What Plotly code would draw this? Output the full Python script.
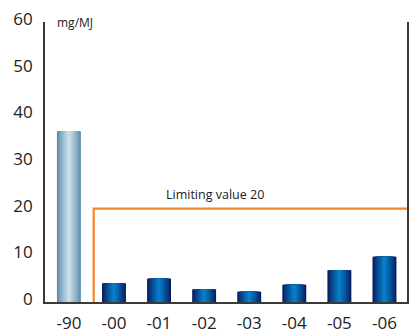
import plotly.graph_objects as go

# Emission values per year, mg/MJ
years = ["-90", "-00", "-01", "-02", "-03", "-04", "-05", "-06"]
values = [36.6, 4.0, 5.0, 2.7, 2.2, 3.7, 6.8, 9.7]
limit_value = 20
limit_label = "Limiting value 20"
unit_label = "mg/MJ"
y_ticks = [0, 10, 20, 30, 40, 50, 60]

FONT = "Open Sans"
BAR_WIDTH = 0.53
LAYERS = 14

# edge -> centre colours for the cylinder-like shading
light_edge, light_centre = (86, 136, 170), (204, 221, 232)
dark_edge, dark_centre = (8, 24, 92), (6, 126, 200)


def mix(a, b, t):
    return "rgb(%d,%d,%d)" % tuple(round(a[i] + (b[i] - a[i]) * t) for i in range(3))


fig = go.Figure()

# nested bars of shrinking width give a horizontal gradient
for k in range(LAYERS):
    t = (k / (LAYERS - 1)) ** 0.8
    colors = [mix(light_edge, light_centre, t) if i == 0 else mix(dark_edge, dark_centre, t)
              for i in range(len(years))]
    fig.add_trace(go.Bar(
        x=years, y=values,
        width=BAR_WIDTH * (1 - k / LAYERS),
        marker=dict(color=colors, line=dict(width=0)),
        hoverinfo="skip", showlegend=False,
    ))

# limit line: starts between the first two years and runs to the right edge
fig.add_shape(
    type="path",
    path=f"M 0.55 0 L 0.55 {limit_value} L 7.5 {limit_value}",
    xref="x", yref="y",
    line=dict(color="#f5862a", width=2.2),
    layer="above",
)

fig.add_annotation(
    x=3.23, y=limit_value + 3.1, xref="x", yref="y",
    text=limit_label, showarrow=False,
    font=dict(family=FONT, size=12.5, color="#222222"),
)
fig.add_annotation(
    x=0.027, y=1.0, xref="paper", yref="paper",
    xanchor="left", yanchor="middle",
    text=unit_label, showarrow=False,
    font=dict(family=FONT, size=12, color="#222222"),
)

fig.update_layout(
    width=416, height=333,
    margin=dict(l=45, r=9, t=22, b=31, pad=0, autoexpand=False),
    barmode="overlay",
    plot_bgcolor="white", paper_bgcolor="white",
    font=dict(family=FONT, color="#222222"),
    xaxis=dict(
        type="category", range=[-0.53, 7.5],
        showline=True, linecolor="#3a3a3a", linewidth=1.6,
        showgrid=False, zeroline=False, ticks="",
        ticklabelstandoff=5, automargin=False,
        tickfont=dict(family=FONT, size=17, color="#222222"),
        fixedrange=True,
    ),
    yaxis=dict(
        range=[0, 60], tickvals=y_ticks,
        showline=True, linecolor="#3a3a3a", linewidth=1.6, mirror=True,
        showgrid=False, zeroline=False, ticks="",
        ticklabelstandoff=7, ticklabelshift=-3, automargin=False,
        tickfont=dict(family=FONT, size=17, color="#222222"),
        fixedrange=True,
    ),
)

fig.write_html("out.html")
